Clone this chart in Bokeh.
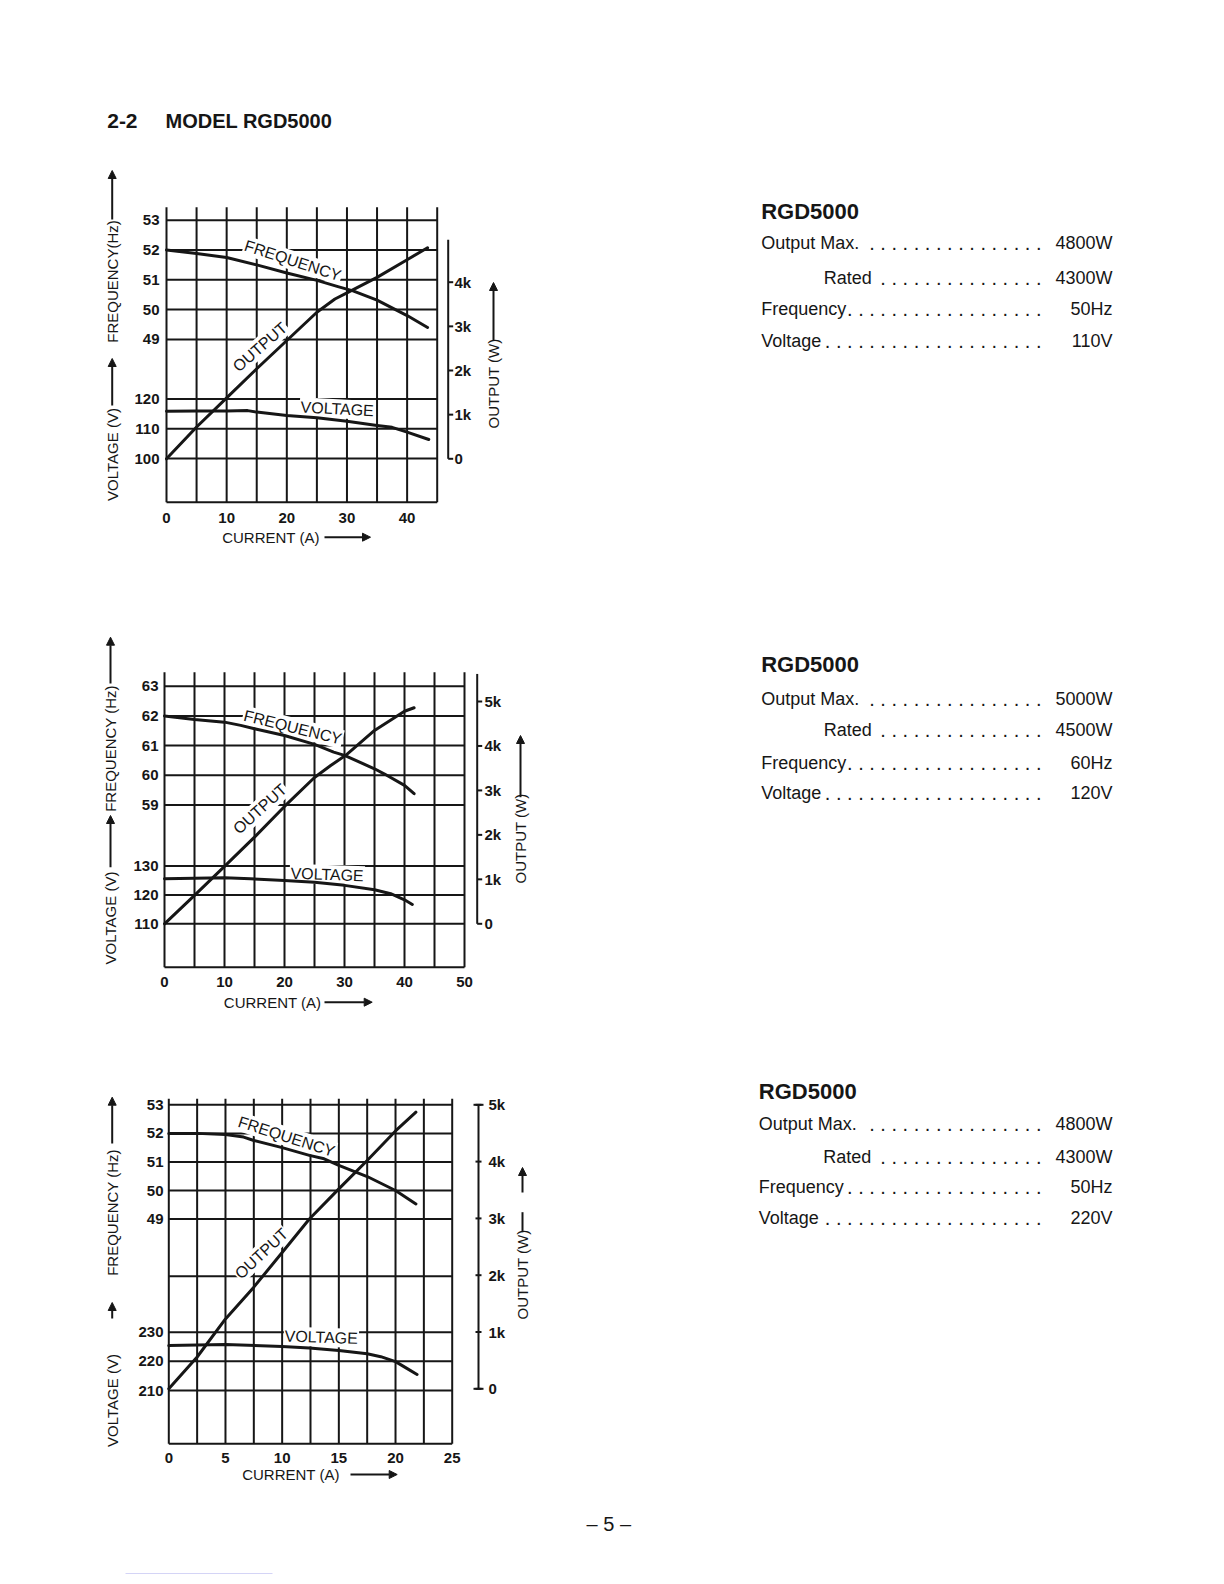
import math
from bokeh.plotting import figure
from bokeh.models import Range1d, Arrow, NormalHead
from bokeh.core.properties import value
from bokeh.embed import file_html
from bokeh.resources import INLINE

FONT = "Liberation Sans"
INK = "#161616"

# ------------------------------------------------------------------ data
# Chart 1 : 50 Hz / 110 V
c1_current_grid = [0, 5, 10, 15, 20, 25, 30, 35, 40, 45]
c1_current_ticks = [0, 10, 20, 30, 40]
c1_current_labels = ["0", "10", "20", "30", "40"]
c1_freq_ticks = [53, 52, 51, 50, 49]
c1_volt_ticks = [120, 110, 100]
c1_output_ticks = [0, 1000, 2000, 3000, 4000]
c1_output_labels = ["0", "1k", "2k", "3k", "4k"]
c1_freq_current = [0, 5, 10, 15, 20, 25, 28.5, 31, 35, 40, 43.4]
c1_freq = [52.0, 51.88, 51.75, 51.5, 51.23, 50.98, 50.77, 50.63, 50.32, 49.8, 49.4]
c1_out_current = [0, 5, 10, 15, 20, 25, 28, 30, 35, 40, 43.4]
c1_output = [0, 720, 1380, 2040, 2680, 3320, 3620, 3760, 4110, 4510, 4780]
c1_volt_current = [0, 5, 10, 13.5, 15, 20, 25, 30, 35, 37.5, 40, 43.6]
c1_voltage = [115.9, 116.0, 116.0, 116.1, 115.6, 114.5, 113.7, 112.5, 111.1, 110.5, 108.9, 106.4]

# Chart 2 : 60 Hz / 120 V
c2_current_grid = [0, 5, 10, 15, 20, 25, 30, 35, 40, 45, 50]
c2_current_ticks = [0, 10, 20, 30, 40, 50]
c2_current_labels = ["0", "10", "20", "30", "40", "50"]
c2_freq_ticks = [63, 62, 61, 60, 59]
c2_volt_ticks = [130, 120, 110]
c2_output_ticks = [0, 1000, 2000, 3000, 4000, 5000]
c2_output_labels = ["0", "1k", "2k", "3k", "4k", "5k"]
c2_freq_current = [0, 5, 10, 12.7, 15, 20, 25, 28.2, 30, 35, 36.6, 40, 41.6]
c2_freq = [62.0, 61.88, 61.79, 61.68, 61.57, 61.34, 61.04, 60.78, 60.67, 60.22, 60.05, 59.66, 59.38]
c2_out_current = [0, 5, 10, 15, 20, 25, 27.7, 30.2, 35, 40, 41.6]
c2_output = [0, 640, 1290, 1950, 2640, 3290, 3560, 3790, 4350, 4780, 4860]
c2_volt_current = [0, 10, 14.3, 20, 25, 30, 35, 37.7, 40, 41.3]
c2_voltage = [125.6, 125.9, 125.6, 125.0, 124.4, 123.3, 121.8, 120.4, 118.3, 116.7]

# Chart 3 : 50 Hz / 220 V
c3_current_grid = [0, 2.5, 5, 7.5, 10, 12.5, 15, 17.5, 20, 22.5, 25]
c3_current_ticks = [0, 5, 10, 15, 20, 25]
c3_current_labels = ["0", "5", "10", "15", "20", "25"]
c3_freq_ticks = [53, 52, 51, 50, 49]
c3_extra_grid = [47]
c3_volt_ticks = [230, 220, 210]
c3_output_ticks = [0, 1000, 2000, 3000, 4000, 5000]
c3_output_labels = ["0", "1k", "2k", "3k", "4k", "5k"]
c3_freq_current = [0, 2.5, 5, 6.6, 7.5, 10, 12.4, 13.7, 15, 17.5, 20, 21.8]
c3_freq = [52.0, 52.0, 51.96, 51.87, 51.75, 51.5, 51.23, 51.11, 50.88, 50.49, 50.0, 49.53]
c3_out_current = [0, 2.5, 5, 7.5, 10, 12.4, 15, 17.5, 20, 21.8]
c3_output = [0, 560, 1230, 1790, 2400, 2990, 3520, 4020, 4540, 4870]
c3_volt_current = [0, 5, 10, 12.4, 15, 17.5, 18.7, 20, 21, 21.9]
c3_voltage = [225.4, 225.8, 225.1, 224.6, 223.7, 222.6, 221.6, 219.9, 217.6, 215.5]

# Specification blocks
spec_title = "RGD5000"
spec_rows = ["Output Max.", "Rated", "Frequency", "Voltage"]
spec1_values = ["4800W", "4300W", "50Hz", "110V"]
spec2_values = ["5000W", "4500W", "60Hz", "120V"]
spec3_values = ["4800W", "4300W", "50Hz", "220V"]

# ------------------------------------------------------------------ page
# Bokeh's page template has no body margin, so the canvas starts at page (0, 0)
X0, X1, Y0, Y1 = 0, 1224, 0, 1584

p = figure(width=X1 - X0, height=Y1 - Y0,
           x_range=Range1d(X0, X1), y_range=Range1d(Y1, Y0),
           x_axis_type=None, y_axis_type=None,
           toolbar_location=None, output_backend="svg", min_border=0)
p.outline_line_color = None
p.background_fill_color = "white"
p.border_fill_color = "white"

xr, yr = {}, {}


def lin_range(v0, p0, v1, p1, lo, hi):
    k = (v1 - v0) / (p1 - p0)
    return Range1d(start=v0 + (lo - p0) * k, end=v0 + (hi - p0) * k)


def txt(x, y, s, size=14, bold=False, align="left", baseline="middle",
        angle=0.0, bg=None, **kw):
    n = len(s)
    p.text(x=x, y=y, text=s, text_font=value(FONT),
           text_font_size=f"{size}px",
           text_font_style="bold" if bold else "normal",
           text_align=align, text_baseline=baseline, angle=[angle] * n,
           text_color=INK, background_fill_color=bg, **kw)


def arrow(x0, y0, x1, y1, head=True, size=8):
    if head:
        p.add_layout(Arrow(end=NormalHead(size=size, fill_color=INK, line_color=INK),
                           x_start=x0, y_start=y0, x_end=x1, y_end=y1,
                           line_color=INK, line_width=2))
    else:
        p.segment(x0=[x0], y0=[y0], x1=[x1], y1=[y1], line_color=INK, line_width=2)


def chart(c):
    k = c["key"]
    xk, fk, vk, pk = k + "x", k + "f", k + "v", k + "p"
    xr[xk] = lin_range(*c["x_cal"], X0, X1)
    yr[fk] = lin_range(*c["f_cal"], Y1, Y0)
    yr[vk] = lin_range(*c["v_cal"], Y1, Y0)
    yr[pk] = lin_range(*c["p_cal"], Y1, Y0)
    g = c["grid"]
    xmax = g[-1]
    lw = 2
    # vertical grid lines (with stubs above the top line)
    p.segment(x0=g, x1=g, y0=[c["grid_bottom"]] * len(g), y1=[c["grid_top"]] * len(g),
              x_range_name=xk, line_color=INK, line_width=lw)
    # horizontal grid lines
    ft = c["freq_ticks"] + c.get("extra", [])
    p.segment(x0=[0] * len(ft), x1=[xmax] * len(ft), y0=ft, y1=ft,
              x_range_name=xk, y_range_name=fk, line_color=INK, line_width=lw)
    vt = c["volt_ticks"]
    p.segment(x0=[0] * len(vt), x1=[xmax] * len(vt), y0=vt, y1=vt,
              x_range_name=xk, y_range_name=vk, line_color=INK, line_width=lw)
    p.segment(x0=[0], x1=[xmax], y0=[c["grid_bottom"]], y1=[c["grid_bottom"]],
              x_range_name=xk, line_color=INK, line_width=lw)

    # curve labels (white background masks the grid)
    for s, (lx, ly), ang in c["curve_labels"]:
        txt([lx], [ly], [s], size=16, align="center", angle=math.radians(ang),
            bg="white", padding=1)

    # curves
    for xs, ys, rk in ((c["fc"], c["fv"], fk), (c["oc"], c["ov"], pk), (c["vc"], c["vv"], vk)):
        p.line(x=xs, y=ys, x_range_name=xk, y_range_name=rk, line_color=INK,
               line_width=3, line_join="round", line_cap="round")

    # left tick labels
    txt([c["label_right"]] * len(c["freq_ticks"]), c["freq_ticks"],
        [str(v) for v in c["freq_ticks"]], size=15, bold=True, align="right",
        y_range_name=fk)
    txt([c["label_right"]] * len(vt), vt, [str(v) for v in vt], size=15, bold=True,
        align="right", y_range_name=vk)
    # bottom tick labels
    txt(c["cur_ticks"], [c["xtick_y"]] * len(c["cur_ticks"]), c["cur_labels"],
        size=15, bold=True, align="center", x_range_name=xk)
    # x title
    tx, ty, ax0, ax1 = c["xtitle"]
    txt([tx], [ty], ["CURRENT (A)"], size=15)
    arrow(ax0, ty, ax1, ty)

    # right output axis
    ox = c["out_x"]
    ot = c["out_ticks"]
    p.segment(x0=[ox], x1=[ox], y0=[0], y1=[c["out_top"]], y_range_name=pk,
              line_color=INK, line_width=2)
    if c["cross"]:
        p.segment(x0=[ox - 3] * len(ot), x1=[ox + 3] * len(ot), y0=ot, y1=ot,
                  y_range_name=pk, line_color=INK, line_width=2)
        ends = [ot[0], ot[-1]]
        p.segment(x0=[ox - 5] * 2, x1=[ox + 5] * 2, y0=ends, y1=ends,
                  y_range_name=pk, line_color=INK, line_width=2)
    else:
        p.segment(x0=[ox] * len(ot), x1=[ox + 5] * len(ot), y0=ot, y1=ot,
                  y_range_name=pk, line_color=INK, line_width=2)
    txt([c["out_label_x"]] * len(ot), ot, c["out_labels"], size=15, bold=True,
        y_range_name=pk)

    # rotated titles
    for s, x, y in c["vtitles"]:
        txt([x], [y], [s], size=15, align="center", angle=math.pi / 2)
    for x, ys, ye, head in c["varrows"]:
        arrow(x, ys, x, ye, head=head)


charts = [
    dict(key="c1", x_cal=(0, 166.0, 45, 436.7), f_cal=(53, 219.7, 49, 338.9),
         v_cal=(120, 398.5, 100, 458.1), p_cal=(0, 458.3, 4000, 281.7),
         grid=c1_current_grid, grid_top=206.7, grid_bottom=501.7,
         freq_ticks=c1_freq_ticks, volt_ticks=c1_volt_ticks,
         cur_ticks=c1_current_ticks, cur_labels=c1_current_labels,
         out_ticks=c1_output_ticks, out_labels=c1_output_labels, out_top=4960,
         fc=c1_freq_current, fv=c1_freq, oc=c1_out_current, ov=c1_output,
         vc=c1_volt_current, vv=c1_voltage,
         label_right=159, xtick_y=517, xtitle=(221.7, 536.7, 324, 370),
         out_x=447.7, out_label_x=454, cross=False,
         curve_labels=[("FREQUENCY", (292.3, 260), -18), ("OUTPUT", (259.5, 346.5), 41),
                       ("VOLTAGE", (336.7, 408.3), -3)],
         vtitles=[("VOLTAGE (V)", 111.7, 454), ("FREQUENCY(Hz)", 111.7, 281),
                  ("OUTPUT (W)", 493, 383)],
         varrows=[(111.7, 405, 358, True), (111.7, 219, 170, True), (493, 340, 282, True)]),
    dict(key="c2", x_cal=(0, 164.0, 50, 464.0), f_cal=(63, 685.7, 59, 804.5),
         v_cal=(130, 865.5, 110, 923.3), p_cal=(0, 923.3, 5000, 701),
         grid=c2_current_grid, grid_top=671.7, grid_bottom=966.7,
         freq_ticks=c2_freq_ticks, volt_ticks=c2_volt_ticks,
         cur_ticks=c2_current_ticks, cur_labels=c2_current_labels,
         out_ticks=c2_output_ticks, out_labels=c2_output_labels, out_top=5620,
         fc=c2_freq_current, fv=c2_freq, oc=c2_out_current, ov=c2_output,
         vc=c2_volt_current, vv=c2_voltage,
         label_right=158, xtick_y=981.7, xtitle=(223.3, 1001.7, 324, 371.7),
         out_x=476.7, out_label_x=484, cross=False,
         curve_labels=[("FREQUENCY", (292.3, 726.7), -14), ("OUTPUT", (259.5, 808.5), 42),
                       ("VOLTAGE", (326.7, 874), -2)],
         vtitles=[("VOLTAGE (V)", 110, 917.5), ("FREQUENCY (Hz)", 110, 748),
                  ("OUTPUT (W)", 520, 838)],
         varrows=[(110, 866.7, 815, True), (110, 683, 636.7, True), (520, 796.7, 735, True)]),
    dict(key="c3", x_cal=(0, 168.3, 25, 451.7), f_cal=(53, 1104.3, 49, 1218.6),
         v_cal=(230, 1331.7, 210, 1390), p_cal=(0, 1388.3, 5000, 1104.3),
         grid=c3_current_grid, grid_top=1098.3, grid_bottom=1443.3, extra=c3_extra_grid,
         freq_ticks=c3_freq_ticks, volt_ticks=c3_volt_ticks,
         cur_ticks=c3_current_ticks, cur_labels=c3_current_labels,
         out_ticks=c3_output_ticks, out_labels=c3_output_labels, out_top=5000,
         fc=c3_freq_current, fv=c3_freq, oc=c3_out_current, ov=c3_output,
         vc=c3_volt_current, vv=c3_voltage,
         label_right=163, xtick_y=1457.3, xtitle=(241.7, 1474, 350, 396.7),
         out_x=478, out_label_x=488, cross=True,
         curve_labels=[("FREQUENCY", (286, 1136), -17.8), ("OUTPUT", (261, 1253), 43),
                       ("VOLTAGE", (320.8, 1336.7), -2)],
         vtitles=[("VOLTAGE (V)", 111.7, 1400), ("FREQUENCY (Hz)", 111.7, 1212),
                  ("OUTPUT (W)", 522, 1274)],
         varrows=[(111.7, 1318, 1302, True), (111.7, 1143, 1096.7, True),
                  (522, 1231.7, 1211.7, False), (522, 1192, 1167, True)]),
]

for c in charts:
    chart(c)

p.extra_x_ranges = xr
p.extra_y_ranges = yr

# heading
txt([106.7], [120.7], ["2-2"], size=21, bold=True)
txt([165], [120.7], ["MODEL RGD5000"], size=20, bold=True)

# specification blocks
blocks = [
    (760.7, 823.3, 210.8, [242.3, 277.3, 308.5, 340.0], spec1_values),
    (760.7, 823.3, 664.0, [698.5, 729.3, 762.0, 792.5], spec2_values),
    (758.3, 822.7, 1090.7, [1123.3, 1156.0, 1186.7, 1217.0], spec3_values),
]
dot_counts = [16, 15, 18, 20]
for lx, rx, ty, rows_y, vals in blocks:
    txt([lx], [ty], [spec_title], size=22, bold=True)
    xs = [lx, rx, lx, lx]
    txt(xs, rows_y, spec_rows, size=18)
    txt([1041] * 4, rows_y, [" ".join(["."] * n) for n in dot_counts], size=20, align="right")
    txt([1112] * 4, rows_y, vals, size=18, align="right")

# page number and faint rule at the bottom
txt([608.3], [1523], ["\u2013 5 \u2013"], size=20, align="center")
p.segment(x0=[125], x1=[272], y0=[1573], y1=[1573], line_color="#d4d4f6", line_width=1)

open("out.html", "w").write(file_html(p, INLINE))
